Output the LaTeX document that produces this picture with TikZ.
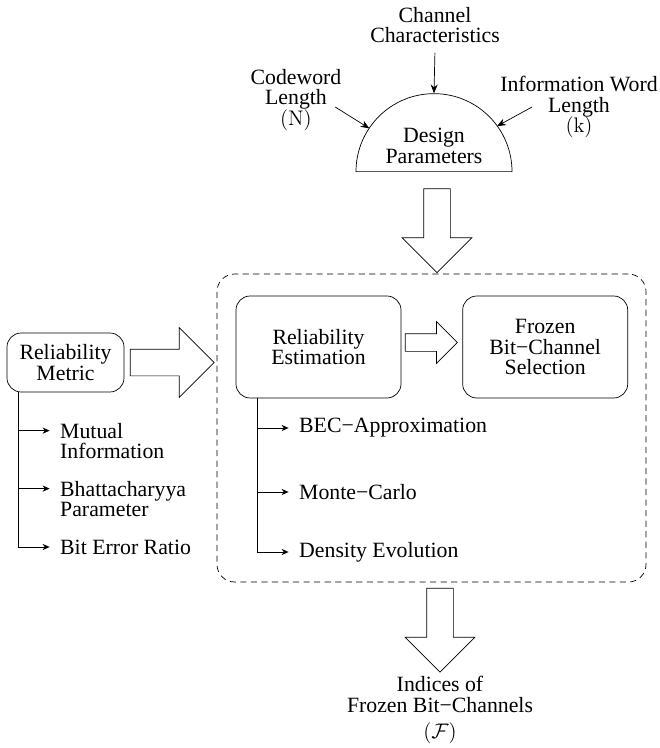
\documentclass[tikz,border=0pt]{standalone}
\usepackage[no-math]{fontspec}
\setmainfont{Liberation Serif}
\usetikzlibrary{shapes.geometric, shapes.arrows, arrows.meta, positioning, calc}

\begin{document}
\begin{tikzpicture}[
  font=\fontsize{12.4}{11.8}\selectfont,
  box/.style={draw, rounded corners=8pt, align=center, minimum width=3.3cm, minimum height=2.04cm},
  bigarrow/.style={draw, single arrow, single arrow head extend=0.43cm, minimum width=1.38cm, minimum height=1.68cm, inner sep=0.26cm},
  arrow/.style={-{Stealth[length=5pt, width=4pt]}},
  branch/.style={-{Stealth[length=4pt, width=3.5pt]}, shorten >=2.5pt},
  item/.style={align=left, anchor=west},
  group/.style={draw, dash pattern=on 3.5pt off 2.5pt, rounded corners=10pt},
]
  \useasboundingbox (0,0) rectangle (13.2,-14.96);

  % design parameters
  \node[draw, semicircle, minimum width=3.12cm, anchor=chord center, align=center] (design) at (8.68,-3.44) {Design\\Parameters};
  \node[align=center] (channel) at (8.70,-0.50) {Channel\\Characteristics};
  \node[align=center] (codeword) at (5.92,-2.0) {Codeword\\Length\\$(\mathrm{N})$};
  \node[align=center] (info) at (11.58,-2.14) {Information Word\\Length\\$(\mathrm{k})$};

  \draw[arrow, shorten <=2pt] (channel.south) -- (design.apex);
  \draw[arrow] ([shift={(-7pt,-4pt)}]codeword.east) -- ($(design.chord center)+(146:1.56cm)$);
  \draw[arrow] ([xshift=-0.94cm]info.center) -- ($(design.chord center)+(36:1.56cm)$);

  \node[bigarrow, shape border rotate=270] (downin) at (8.74,-4.48) {};

  % estimation and selection
  \node[group, minimum width=8.58cm, minimum height=6.16cm] (group) at (8.63,-8.56) {};
  \node[box] (est) at (6.37,-6.94) {Reliability\\Estimation};
  \node[box, right=1.22cm of est] (frozen) {Frozen\\Bit−Channel\\Selection};
  \node[bigarrow, minimum width=0.82cm, minimum height=1.04cm, inner sep=0.17cm, single arrow head extend=0.24cm, xshift=-0.1cm, yshift=0.09cm]
    (toselect) at ($(est.east)!0.5!(frozen.west)$) {};

  \node[item] (bec) at (5.86,-8.56) {BEC−Approximation};
  \node[item] (mc) at (5.86,-9.84) {Monte−Carlo};
  \node[item] (de) at (5.86,-11.04) {Density Evolution};
  \coordinate (esttrunk) at ([xshift=0.44cm]est.south west);
  \foreach \m in {bec, mc, de}
    \draw[branch] (esttrunk) |- (\m.west);

  % reliability metric
  \node[box, minimum width=2.34cm, minimum height=1.18cm] (metric) at (1.31,-7.25) {Reliability\\Metric};
  \node[bigarrow] (toest) at (3.31,-7.25) {};

  \node[item] (mi) at (1.08,-8.82) {Mutual\\Information};
  \node[item] (bp) at (1.08,-9.98) {Bhattacharyya\\Parameter};
  \node[item] (ber) at (1.08,-10.94) {Bit Error Ratio};
  \coordinate (mettrunk) at ([xshift=0.24cm]metric.south west);
  \draw[branch] (mettrunk) |- ([yshift=5.9pt]mi.west);
  \draw[branch] (mettrunk) |- ([yshift=5.9pt]bp.west);
  \draw[branch] (mettrunk) |- (ber.west);

  % output
  \node[bigarrow, shape border rotate=270] (downout) at (8.8,-12.47) {};
  \node[align=center] (result) at (8.8,-14.2) {Indices of\\Frozen Bit−Channels\\[3pt]$(\mathcal{F})$};
\end{tikzpicture}
\end{document}
